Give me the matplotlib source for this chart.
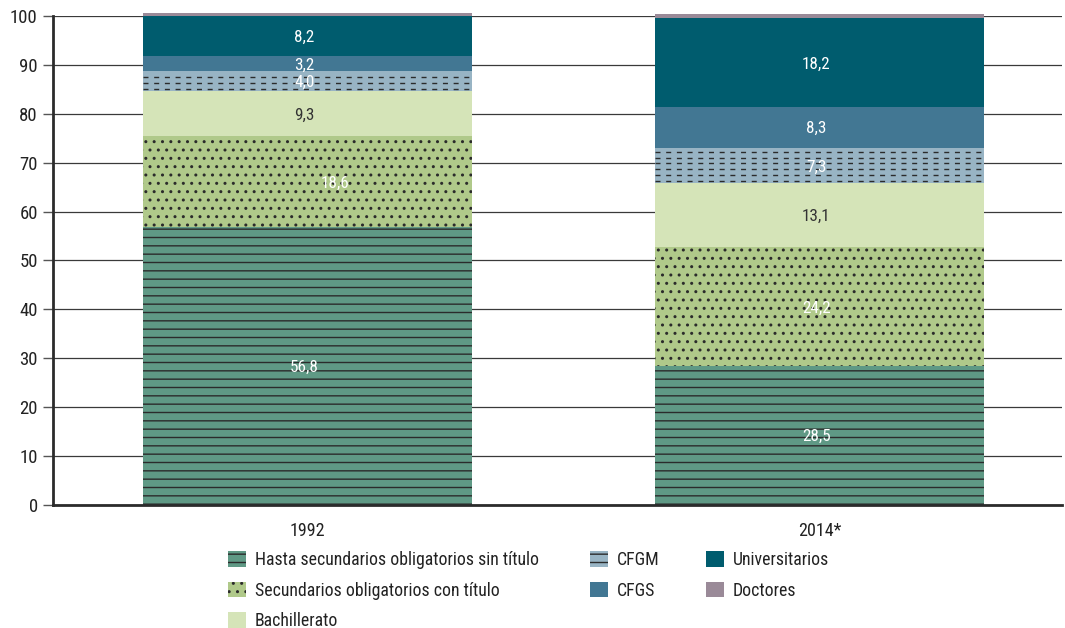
import matplotlib
matplotlib.use("Agg")
import matplotlib.pyplot as plt
from matplotlib import font_manager
from matplotlib.patches import Patch
import numpy as np

# pick a narrow font if one is available
available = {f.name for f in font_manager.fontManager.ttflist}
narrow = [n for n in ["Roboto Condensed", "Liberation Sans Narrow", "Open Sans Condensed"]
          if n in available]
plt.rcParams['font.family'] = narrow + ['DejaVu Sans']
plt.rcParams['font.stretch'] = 'condensed'
plt.rcParams['hatch.linewidth'] = 1.0

# data
years = ["1992", "2014*"]
categories = ["Hasta secundarios obligatorios sin título",
              "Secundarios obligatorios con título",
              "Bachillerato", "CFGM", "CFGS", "Universitarios", "Doctores"]
hasta = [56.8, 28.5]
secundarios = [18.6, 24.2]
bachillerato = [9.3, 13.1]
cfgm = [4.0, 7.3]
cfgs = [3.2, 8.3]
universitarios = [8.2, 18.2]
doctores = [0.6, 0.8]
series = [hasta, secundarios, bachillerato, cfgm, cfgs, universitarios, doctores]

colors = ["#5f9985", "#b0c98a", "#d5e4b8", "#98b4c4", "#427793", "#005c6e", "#9a8a98"]
hatches = ["--", "..", None, None, None, None, None]
label_colors = ["white", "white", "#333333", "white", "white", "white", None]
dark = "#2b2b2b"

fig = plt.figure(figsize=(10.65, 6.28), dpi=100)
ax = fig.add_axes([0.0498, 0.1959, 0.9474, 0.7786])

x = np.arange(len(years))
width = 0.643
bottom = np.zeros(len(years))
containers = []
for vals, col, h in zip(series, colors, hatches):
    bars = ax.bar(x, vals, width, bottom=bottom, color=col, edgecolor=dark if h else col,
                  linewidth=0, hatch=h, zorder=2, clip_on=False)
    containers.append(bars)
    bottom = bottom + np.array(vals)

# dashed pattern for CFGM
for bar in containers[3]:
    y0 = bar.get_y()
    ys = np.arange(y0 + 0.45, y0 + bar.get_height() - 0.2, 1.2)
    lc = ax.hlines(ys, bar.get_x(), bar.get_x() + bar.get_width(), colors=dark,
                   linewidth=1.0, linestyles=(0, (3.6, 4.1)), zorder=3)
    lc.set_clip_path(bar)

# value labels
offsets = {(1, 0): 0.06}
for i, (vals, tc) in enumerate(zip(series, label_colors)):
    if tc is None:
        continue
    for j, bar in enumerate(containers[i]):
        cx = bar.get_x() + bar.get_width() / 2 - 0.006 + offsets.get((i, j), 0)
        cy = bar.get_y() + bar.get_height() / 2 - 0.3
        ax.text(cx, cy, f"{vals[j]:.1f}".replace(".", ","), ha="center", va="center",
                color=tc, fontsize=12.3, zorder=4)

ax.set_xlim(-0.497, 1.474)
ax.set_ylim(0, 100)
ax.set_yticks(np.arange(0, 101, 10))
ax.set_xticks(x)
ax.set_xticklabels(years)
ax.tick_params(axis="x", length=0, pad=12, labelsize=13, labelcolor="#222222")
ax.tick_params(axis="y", length=7, width=1.0, color="#555555", pad=4,
               labelsize=13.5, labelcolor="#222222")
ax.grid(axis="y", color="#3a3a3a", linewidth=0.9, zorder=0)
ax.set_axisbelow(True)
for s in ["top", "right"]:
    ax.spines[s].set_visible(False)
ax.spines["left"].set_color(dark)
ax.spines["left"].set_linewidth(2)
ax.spines["bottom"].set_color(dark)
ax.spines["bottom"].set_linewidth(2)

# legend in three groups
handles = []
for name, col, h in zip(categories, colors, ["--", "..", None, "--", None, None, None]):
    handles.append(Patch(facecolor=col, edgecolor=dark if h else col, linewidth=0,
                         hatch=h, label=name))
groups = [(handles[0:3], 0.214), (handles[3:5], 0.554), (handles[5:7], 0.663)]
for hs, lx in groups:
    fig.legend(handles=hs, loc="upper left", bbox_to_anchor=(lx, 0.122),
               frameon=False, fontsize=12.8, handlelength=1.0, handleheight=1.0,
               handletextpad=0.5, labelspacing=0.68, borderpad=0, borderaxespad=0,
               labelcolor="#222222")

fig.savefig("out.png", dpi=100)
